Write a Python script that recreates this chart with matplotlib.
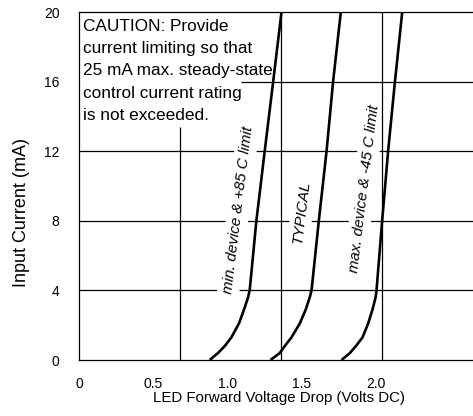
import matplotlib
matplotlib.use("Agg")
import matplotlib.pyplot as plt
from matplotlib import font_manager

# values (current in mA, voltage in V)
CURRENT = [0, 0.4, 0.8, 1.3, 2.1, 2.9, 3.6, 4.0, 8, 12, 16, 20]
V_MIN_85C = [0.879, 0.935, 0.980, 1.025, 1.076, 1.110, 1.137, 1.148, 1.193, 1.249, 1.306, 1.362]
V_TYPICAL = [1.288, 1.350, 1.384, 1.429, 1.485, 1.525, 1.552, 1.564, 1.613, 1.665, 1.709, 1.761]
V_MAX_M45C = [1.766, 1.822, 1.862, 1.907, 1.945, 1.974, 1.995, 2.001, 2.039, 2.079, 2.125, 2.174]

CURVE_LABELS = ["min. device & +85 C limit", "TYPICAL", "max. device & -45 C limit"]

X_TICKS = [0, 0.5, 1.0, 1.5, 2.0]
X_TICK_LABELS = ["0", "0.5", "1.0", "1.5", "2.0"]
Y_TICKS = [0, 4, 8, 12, 16, 20]

CAUTION = ("CAUTION: Provide\n"
           "current limiting so that\n"
           "25 mA max. steady-state\n"
           "control current rating\n"
           "is not exceeded.")


def pick_font(names):
    for n in names:
        try:
            font_manager.findfont(n, fallback_to_default=False)
            return n
        except ValueError:
            pass
    return "DejaVu Sans"


SANS = pick_font(["Liberation Sans", "DejaVu Sans"])
plt.rcParams["font.family"] = [SANS, "DejaVu Sans"]

fig = plt.figure(figsize=(4.73, 4.16), dpi=100)
ax = fig.add_axes([0.167, 0.1346, 0.833, 0.8365])
ax.set_xlim(0, 2.65)
ax.set_ylim(0, 20)

# grid, drawn by hand since the lines sit at odd places in the original
ax.hlines([4, 8, 12], 0, 2.65, colors="black", lw=0.9, zorder=1)
ax.hlines([16], 1.092, 2.65, colors="black", lw=0.9, zorder=1)
ax.vlines([0.677], 0, 13.4, colors="black", lw=0.9, zorder=4)
ax.vlines([1.360, 2.037], 0, 20, colors="black", lw=0.9, zorder=4)

for v in (V_MIN_85C, V_TYPICAL, V_MAX_M45C):
    ax.plot(v, CURRENT, color="black", lw=1.9, zorder=5, solid_capstyle="butt")

box = dict(facecolor="white", edgecolor="none", pad=3)
label_pos = [(1.071, 8.63), (1.498, 8.51), (1.916, 9.83)]
for txt, (x, y) in zip(CURVE_LABELS, label_pos):
    ax.text(x, y, txt, rotation=83, ha="center", va="center", fontsize=11,
            style="italic", bbox=box, zorder=3)

ax.text(0.01, 0.98, CAUTION, transform=ax.transAxes, ha="left", va="top",
        fontsize=12.4, linespacing=1.6, zorder=6)

ax.set_xticks(X_TICKS)
ax.set_xticklabels(X_TICK_LABELS)
ax.set_yticks(Y_TICKS)
ax.tick_params(axis="both", length=0, labelsize=10)
ax.tick_params(axis="y", pad=14)
ax.tick_params(axis="x", pad=12)

ax.spines["right"].set_visible(False)
for s in ("left", "bottom", "top"):
    ax.spines[s].set_linewidth(0.9)

ax.set_xlabel("LED Forward Voltage Drop (Volts DC)", fontsize=10.8)
ax.set_ylabel("Input Current (mA)", fontsize=13)
ax.xaxis.set_label_coords(0.508, -0.088)
ax.yaxis.set_label_coords(-0.146, 0.425)
ax.yaxis.label.set_va("center")

fig.savefig("out.png", dpi=100)
